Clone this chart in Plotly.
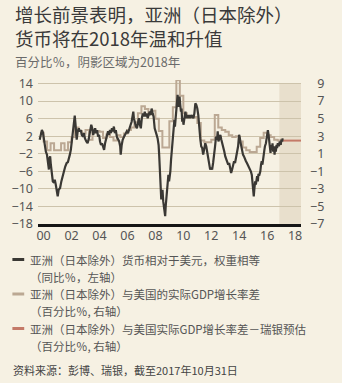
import plotly.graph_objects as go

# ---------------- data ----------------
# Asia ex-Japan currencies vs USD, equal weighted (YoY %, left axis)
fx_x = [1999.72, 1999.81, 1999.88, 1999.95, 2000.02, 2000.09, 2000.16, 2000.24, 2000.31, 2000.38,
        2000.42, 2000.47, 2000.52, 2000.59, 2000.66, 2000.75, 2000.80, 2000.87, 2000.94, 2001.01,
        2001.08, 2001.18, 2001.27, 2001.36, 2001.46, 2001.55, 2001.65, 2001.74, 2001.83, 2001.88,
        2001.95, 2002.02, 2002.09, 2002.16, 2002.23, 2002.28, 2002.33, 2002.37, 2002.44, 2002.52,
        2002.59, 2002.66, 2002.73, 2002.82, 2002.89, 2002.96, 2003.06, 2003.15, 2003.24, 2003.34,
        2003.41, 2003.48, 2003.55, 2003.62, 2003.69, 2003.76, 2003.83, 2003.90, 2003.97, 2004.04,
        2004.11, 2004.18, 2004.25, 2004.33, 2004.40, 2004.47, 2004.54, 2004.61, 2004.68, 2004.75,
        2004.82, 2004.89, 2004.96, 2005.03, 2005.10, 2005.17, 2005.24, 2005.29, 2005.41, 2005.48,
        2005.52, 2005.59, 2005.66, 2005.76, 2005.85, 2005.95, 2006.04, 2006.13, 2006.23, 2006.30,
        2006.37, 2006.42, 2006.46, 2006.53, 2006.61, 2006.68, 2006.75, 2006.82, 2006.89, 2006.96,
        2007.03, 2007.10, 2007.17, 2007.24, 2007.31, 2007.38, 2007.45, 2007.52, 2007.59, 2007.66,
        2007.73, 2007.80, 2007.87, 2007.95, 2008.02, 2008.09, 2008.16, 2008.23, 2008.27, 2008.32,
        2008.37, 2008.42, 2008.46, 2008.51, 2008.56, 2008.60, 2008.65, 2008.70, 2008.74, 2008.79,
        2008.84, 2008.89, 2008.93, 2008.98, 2009.03, 2009.07, 2009.12, 2009.17, 2009.21, 2009.26,
        2009.31, 2009.36, 2009.40, 2009.45, 2009.50, 2009.54, 2009.59, 2009.64, 2009.68, 2009.73,
        2009.78, 2009.83, 2009.87, 2009.92, 2009.97, 2010.01, 2010.08, 2010.15, 2010.22, 2010.30,
        2010.37, 2010.44, 2010.51, 2010.58, 2010.65, 2010.72, 2010.79, 2010.86, 2010.93, 2011.00,
        2011.07, 2011.14, 2011.21, 2011.28, 2011.35, 2011.42, 2011.49, 2011.57, 2011.64, 2011.71,
        2011.78, 2011.85, 2011.92, 2011.99, 2012.06, 2012.13, 2012.20, 2012.27, 2012.34, 2012.41,
        2012.46, 2012.51, 2012.58, 2012.65, 2012.72, 2012.79, 2012.86, 2012.93, 2013.00, 2013.07,
        2013.14, 2013.21, 2013.28, 2013.35, 2013.42, 2013.49, 2013.56, 2013.63, 2013.70, 2013.77,
        2013.84, 2013.92, 2013.99, 2014.03, 2014.08, 2014.13, 2014.20, 2014.27, 2014.34, 2014.41,
        2014.48, 2014.55, 2014.62, 2014.69, 2014.76, 2014.83, 2014.90, 2014.95, 2015.00, 2015.04,
        2015.09, 2015.14, 2015.19, 2015.23, 2015.28, 2015.33, 2015.37, 2015.44, 2015.51, 2015.56,
        2015.61, 2015.66, 2015.70, 2015.75, 2015.80, 2015.84, 2015.91, 2015.98, 2016.05, 2016.10,
        2016.15, 2016.20, 2016.24, 2016.29, 2016.34, 2016.38, 2016.43, 2016.48, 2016.53, 2016.57,
        2016.62, 2016.67, 2016.71, 2016.76, 2016.83, 2016.90, 2016.97, 2017.02, 2017.07, 2017.11]
fx_y = [1.2, 2.7, 3.4, 2.9, 1.2, 0.4, -1.5, -2.2, -4.5, -5.6,
        -3.0, -2.6, -4.5, -6.8, -8.3, -8.6, -7.9, -9.0, -10.5, -11.7,
        -10.2, -9.8, -8.3, -6.8, -6.0, -4.9, -4.1, -3.9, -3.0, -2.2,
        -1.1, 0.8, 2.3, 3.8, 6.7, 4.9, 2.3, 1.2, 3.1, 3.8,
        3.1, 3.4, 2.3, 1.9, 2.7, 1.5, 0.8, 0.4, 1.5, 3.1,
        4.6, 3.8, 2.3, 3.1, 3.8, 2.7, 3.4, 1.9, 2.3, 0.8,
        0.0, 0.4, -0.7, -1.1, 0.4, 1.5, 2.7, 3.1, 2.3, 3.4,
        2.7, 3.8, 3.1, 4.2, 2.7, 3.4, 1.9, 1.5, 0.8, -0.3,
        -2.2, 0.0, 1.2, 1.9, 2.7, 3.1, 2.7, 3.4, 4.6, 5.3,
        6.8, 7.6, 6.1, 4.9, 4.2, 3.8, 4.9, 6.1, 4.6, 3.8,
        6.1, 7.2, 6.5, 7.6, 6.5, 7.2, 6.1, 7.2, 7.6, 6.8,
        8.3, 7.2, 6.5, 3.8, 2.7, 2.3, 1.5, 0.0, -2.2, -6.0,
        -9.8, -12.4, -11.3, -10.2, -12.8, -14.3, -15.8, -16.2, -13.9, -12.0,
        -10.5, -9.4, -6.8, -8.3, -7.1, -6.0, -3.4, -1.5, 0.0, 2.3,
        4.6, 5.7, 4.2, 6.8, 8.3, 9.8, 11.4, 8.7, 9.8, 11.0,
        9.1, 7.6, 8.3, 5.3, 6.1, 4.6, 6.1, 7.6, 6.1, 6.8,
        6.1, 6.8, 6.1, 6.8, 6.5, 6.1, 7.2, 9.5, 9.1, 8.3,
        6.8, 3.1, 1.5, -0.3, -0.7, -2.2, -0.3, 0.4, -0.3, -1.8,
        -3.7, -5.2, -5.6, -5.2, -5.6, -4.1, -2.6, -0.3, 1.9, 1.2,
        3.1, 0.8, 1.5, 2.3, 1.2, 0.0, -0.3, -1.5, -2.6, -3.4,
        -4.1, -4.5, -4.1, -5.6, -6.4, -5.6, -4.5, -3.7, -4.1, -3.0,
        -1.8, -0.3, 2.3, 1.9, 0.8, -0.3, -1.5, -2.2, -2.6, -3.4,
        -3.7, -4.1, -4.5, -4.9, -5.6, -6.0, -6.8, -8.3, -9.4, -11.7,
        -9.8, -8.3, -9.0, -7.5, -7.1, -8.3, -6.8, -6.8, -6.0, -4.5,
        -3.7, -4.5, -3.0, -1.8, -1.1, -0.3, 0.4, 1.9, 3.4, 2.3,
        0.8, -0.3, -1.8, 0.0, -1.1, 0.4, -1.5, -0.3, -2.2, -0.3,
        -1.5, 0.0, -0.7, 0.4, -0.3, 0.8, 0.0, 1.2, 0.8, 1.5]

# Asia ex-Japan minus US real GDP growth differential (%, right axis), quarterly
gdp_x = [1999.75, 2000.00, 2000.25, 2000.50, 2000.75, 2001.00, 2001.25, 2001.50, 2001.75,
         2002.00, 2002.25, 2002.50, 2002.75, 2003.00, 2003.25, 2003.50, 2003.75,
         2004.00, 2004.25, 2004.50, 2004.75, 2005.00, 2005.25, 2005.50, 2005.75,
         2006.00, 2006.25, 2006.50, 2006.75, 2007.00, 2007.25, 2007.50, 2007.75,
         2008.00, 2008.25, 2008.50, 2008.75, 2009.00, 2009.25, 2009.50, 2009.75,
         2010.00, 2010.25, 2010.50, 2010.75, 2011.00, 2011.25, 2011.50, 2011.75,
         2012.00, 2012.25, 2012.50, 2012.75, 2013.00, 2013.25, 2013.50, 2013.75,
         2014.00, 2014.25, 2014.50, 2014.75, 2015.00, 2015.25, 2015.50, 2015.75,
         2016.00, 2016.25, 2016.50, 2016.75, 2017.00, 2017.11]
gdp_y = [3.4, 2.4, 1.4, 2.2, 1.4, 1.4, 2.2, 1.4, 2.3,
         2.9, 4.0, 3.6, 3.3, 3.7, 2.6, 3.4, 3.6,
         3.5, 2.8, 3.2, 2.9, 2.5, 3.1, 2.9, 3.3,
         3.7, 4.0, 4.6, 5.6, 6.4, 6.1, 5.6, 5.9,
         5.0, 3.6, 1.7, 1.7, 4.7, 6.3, 9.4, 7.6,
         5.6, 5.2, 5.3, 5.2, 4.5, 2.5, 2.3, 2.3,
         2.6, 5.4, 4.0, 3.7, 3.5, 3.1, 2.9, 3.0,
         2.4, 1.7, 1.4, 1.2, 1.2, 1.8, 2.8, 3.4,
         3.1, 2.9, 2.6, 2.5, 2.6, 2.6]

# UBS estimate of the differential (%, right axis)
est_x = [2017.11, 2018.42]
est_y = [2.5, 2.5]

# shaded period (2018)
shade_x = [2016.87, 2018.42]

# axis ticks
x_ticks = [2000, 2002, 2004, 2006, 2008, 2010, 2012, 2014, 2016, 2018]
x_labels = ["00", "02", "04", "06", "08", "10", "12", "14", "16", "18"]
left_ticks = [-18, -14, -10, -6, -2, 2, 6, 10, 14]
right_ticks = [-7, -5, -3, -1, 1, 3, 5, 7, 9]

# ---------------- style ----------------
BG = "#f6f1e3"
GRID = "#cdc3ab"
C_FX = "#3a3834"
C_GDP = "#bba893"
C_EST = "#c47a68"
SHADE = "#e8dfcc"
FONT = "Noto Sans, Noto Sans CJK SC, sans-serif"
CJK = "Noto Sans CJK SC, sans-serif"

W, H = 342, 383
ML, MR, MT, MB = 34, 41, 80, 159
PW = W - ML - MR
PH = H - MT - MB


def px(x):
    return (x - ML) / PW


def py(y):
    return (H - MB - y) / PH


def fmt(v):
    s = str(abs(v))
    if v < 0:
        return "\u2212" + s
    return "\u2007" + s


fig = go.Figure()

fig.add_trace(go.Scatter(x=gdp_x, y=gdp_y, mode="lines", line=dict(color=C_GDP, width=2, shape="hv"),
                         yaxis="y", showlegend=False, hoverinfo="skip"))
fig.add_trace(go.Scatter(x=est_x, y=est_y, mode="lines", line=dict(color=C_EST, width=2),
                         yaxis="y", showlegend=False, hoverinfo="skip"))
fig.add_trace(go.Scatter(x=fx_x, y=fx_y, mode="lines", line=dict(color=C_FX, width=2.2),
                         yaxis="y2", showlegend=False, hoverinfo="skip"))

fig.add_shape(type="rect", xref="x", yref="y", x0=shade_x[0], x1=shade_x[1], y0=-7, y1=9,
              fillcolor=SHADE, line=dict(width=0), layer="below")

fig.update_layout(
    width=W, height=H,
    margin=dict(l=ML, r=MR, t=MT, b=MB, pad=0),
    paper_bgcolor=BG, plot_bgcolor=BG,
    font=dict(family=FONT, size=12, color="#555"),
    showlegend=False,
    xaxis=dict(range=[1999.6, 2018.42], tickvals=x_ticks, ticktext=x_labels,
               showgrid=False, zeroline=False, showline=True, linecolor="#151515", linewidth=2.5,
               ticks="", tickfont=dict(size=12.5, color="#555"), ticklabelstandoff=-2),
    yaxis=dict(side="right", range=[-7, 9.4], tickvals=right_ticks,
               ticktext=[fmt(v) for v in right_ticks],
               showgrid=True, gridcolor=GRID, gridwidth=1.2, zeroline=False, ticks="",
               tickfont=dict(size=12.5, color="#555"), ticklabelstandoff=8),
    yaxis2=dict(side="left", overlaying="y", range=[-18, 14.8], tickvals=left_ticks,
                showgrid=False, zeroline=False, ticks="",
                tickfont=dict(size=12.5, color="#555"), ticklabelstandoff=4),
)

ann = []


def text(x, y, s, size, color, family=CJK):
    ann.append(dict(x=px(x), y=py(y), xref="paper", yref="paper", text=s, showarrow=False,
                    xanchor="left", yanchor="middle", align="left",
                    font=dict(size=size, color=color, family=family)))


text(9, 13.5, "增长前景表明，亚洲（日本除外）", 18.5, "#3a3a3a")
text(9, 38, "货币将在2018年温和升值", 18.5, "#3a3a3a")
text(9, 61.5, "百分比％，阴影区域为2018年", 12.5, "#6a6a6a")

LF = 11.5
leg = [
    (259.5, C_FX, "亚洲（日本除外）货币相对于美元，权重相等", 276.5, "（同比％，左轴）"),
    (294, C_GDP, "亚洲（日本除外）与美国的实际GDP增长率差", 311, "（百分比％, 右轴）"),
    (328.5, C_EST, "亚洲（日本除外）与美国实际GDP增长率差－瑞银预估", 345.5, "（百分比％, 右轴）"),
]
for y1, col, t1, y2, t2 in leg:
    fig.add_shape(type="line", xref="paper", yref="paper", x0=px(8), x1=px(20), y0=py(y1), y1=py(y1),
                  line=dict(color=col, width=3))
    text(24, y1, t1, LF, "#555")
    text(24, y2, t2, LF, "#555")

text(7, 370, "资料来源：彭博、瑞银，截至2017年10月31日", 11, "#444")

fig.update_layout(annotations=ann)
fig.write_html("out.html")
